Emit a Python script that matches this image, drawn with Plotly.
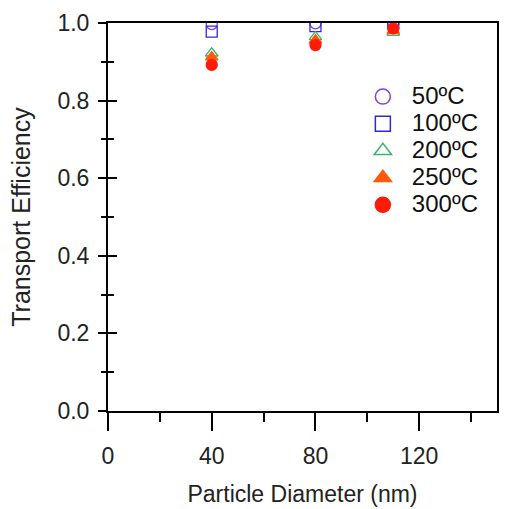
import plotly.graph_objects as go

diameters = [40, 80, 110]
labels = ["50ºC", "100ºC", "200ºC", "250ºC", "300ºC"]
eff_50 = [0.997, 0.999, 0.998]
eff_100 = [0.978, 0.992, 1.0]
eff_200 = [0.922, 0.964, 0.975]
eff_250 = [0.912, 0.956, 0.980]
eff_300 = [0.892, 0.943, 0.986]
series = [eff_50, eff_100, eff_200, eff_250, eff_300]
symbols = ["circle-open", "square-open", "triangle-up-open", "triangle-up", "circle"]
colors = ["#8a3be0", "#2a2ad8", "#3cb371", "#ff5a0a", "#ff1a0a"]
x_ticks = [0, 40, 80, 120]
y_ticks = [0.0, 0.2, 0.4, 0.6, 0.8, 1.0]

FAM = "Arial, Liberation Sans, sans-serif"

fig = go.Figure()
for lab, vals, sym, col in zip(labels, series, symbols, colors):
    fig.add_trace(go.Scatter(x=diameters, y=vals, mode="markers", showlegend=False,
                             marker=dict(symbol=sym, size=11, color=col,
                                         line=dict(width=1.3, color=col))))
for lab, sym, col in zip(labels, symbols, colors):
    fig.add_trace(go.Scatter(x=[None], y=[None], mode="markers",
                             name=f"<span style='font-size:24px'>{lab}</span>",
                             marker=dict(symbol=sym, size=15, color=col,
                                         line=dict(width=1.5, color=col))))

fig.update_layout(
    width=527, height=509,
    margin=dict(l=108, r=30, t=23, b=98),
    paper_bgcolor="white", plot_bgcolor="white",
    font=dict(family=FAM, size=20, color="#222"),
    legend=dict(x=0.632, y=0.858, xanchor="left", yanchor="top",
                font=dict(family=FAM, size=18.5, color="#111"),
                itemsizing="trace", itemwidth=48, tracegroupgap=0,
                bgcolor="rgba(0,0,0,0)"),
    xaxis=dict(range=[0, 150], tickvals=x_ticks, showgrid=False, zeroline=False,
               automargin=False,
               showline=True, linecolor="black", linewidth=2, mirror=True,
               ticks="outside", ticklen=18, tickwidth=2, tickcolor="black",
               ticklabelstandoff=5,
               tickfont=dict(family=FAM, size=23, color="#222"),
               minor=dict(ticks="outside", ticklen=9, tickwidth=2, tickcolor="black", dtick=20),
               title=dict(text="Particle Diameter (nm)", standoff=18,
                          font=dict(family=FAM, size=23, color="#222"))),
    yaxis=dict(range=[0, 1.0], tickvals=y_ticks, tickformat=".1f", showgrid=False, zeroline=False,
               automargin=False,
               showline=True, linecolor="black", linewidth=2, mirror=True,
               ticks="outside", ticklen=8, tickwidth=2, tickcolor="black",
               ticklabelstandoff=4,
               tickfont=dict(family=FAM, size=23, color="#222"),
               minor=dict(ticks="outside", ticklen=5, tickwidth=2, tickcolor="black", dtick=0.1),
               title=dict(text="Transport Efficiency", standoff=20,
                          font=dict(family=FAM, size=25, color="#222"))),
    yaxis2=dict(range=[0, 1.0], overlaying="y", side="left", tickvals=y_ticks,
                showticklabels=False, showgrid=False, zeroline=False, showline=False,
                ticks="inside", ticklen=9, tickwidth=2, tickcolor="black",
                minor=dict(ticks="inside", ticklen=6, tickwidth=2, tickcolor="black", dtick=0.1)),
)
fig.add_trace(go.Scatter(x=[None], y=[None], yaxis="y2", showlegend=False))
fig.write_html("out.html")
